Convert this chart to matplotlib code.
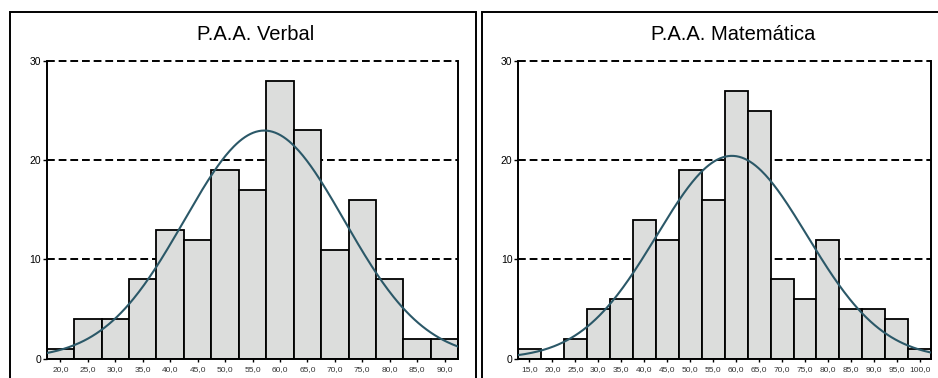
import numpy as np
import matplotlib
matplotlib.use("Agg")
import matplotlib.pyplot as plt
from matplotlib.patches import Rectangle

plt.rcParams['font.family'] = ['Liberation Sans', 'DejaVu Sans']

# Daten (Klassenmitten, Häufigkeiten)
verbal_mid = [20, 25, 30, 35, 40, 45, 50, 55, 60, 65, 70, 75, 80, 85, 90]
verbal_n = [1, 4, 4, 8, 13, 12, 19, 17, 28, 23, 11, 16, 8, 2, 2]

mate_mid = [15, 20, 25, 30, 35, 40, 45, 50, 55, 60, 65, 70, 75, 80, 85, 90, 95, 100]
mate_n = [1, 0, 2, 5, 6, 14, 12, 19, 16, 27, 25, 8, 6, 12, 5, 5, 4, 1]

titles = ['P.A.A. Verbal', 'P.A.A. Matemática']
bin_w = 5

bar_col = '#dcdddc'
curve_col = '#2b5868'

fig = plt.figure(figsize=(9.38, 3.78), dpi=100)
W, H = 938, 378


def px(x0, y0, x1, y1):
    # Pixel -> Figurkoordinaten
    return [x0 / W, 1 - y1 / H, (x1 - x0) / W, (y1 - y0) / H]


# Rahmen um die Diagramme
for bx0, bx1 in [(10, 476), (482, 950)]:
    fig.add_artist(Rectangle((bx0 / W, 1 - 400 / H), (bx1 - bx0) / W, (400 - 12) / H,
                             transform=fig.transFigure, fill=False,
                             edgecolor='black', lw=1.4))

panels = [
    (verbal_mid, verbal_n, px(46.7, 61, 458.3, 358.7), 255.7),
    (mate_mid, mate_n, px(518, 61, 931.3, 358.7), 732.7),
]

for (mid, n, rect, tx), title in zip(panels, titles):
    mid = np.array(mid, dtype=float)
    n = np.array(n, dtype=float)
    ax = fig.add_axes(rect)

    ax.bar(mid, n, width=bin_w, color=bar_col, edgecolor='black', lw=1.3, zorder=2)

    # Normalverteilungskurve
    mu = np.average(mid, weights=n)
    sd = np.sqrt(np.sum(n * (mid - mu) ** 2) / (n.sum() - 1))
    lo, hi = mid[0] - bin_w / 2, mid[-1] + bin_w / 2
    xs = np.linspace(lo, hi, 300)
    ys = n.sum() * bin_w / (sd * np.sqrt(2 * np.pi)) * np.exp(-0.5 * ((xs - mu) / sd) ** 2)
    ax.plot(xs, ys, color=curve_col, lw=1.5, zorder=3)

    for yv in [10, 20, 30]:
        ax.axhline(yv, color='black', lw=1.4, ls=(0, (4, 2)), zorder=1, clip_on=False)

    ax.set_xlim(lo, hi)
    ax.set_ylim(0, 30)
    ax.set_yticks([0, 10, 20, 30])
    ax.set_xticks(mid)
    ax.set_xticklabels([('%.1f' % v).replace('.', ',') for v in mid])
    ax.tick_params(axis='y', labelsize=7.5, length=3, width=1, pad=1)
    ax.tick_params(axis='x', labelsize=6, length=2, width=1, pad=3)
    for lab in ax.get_xticklabels():
        lab.set_color('#333333')
    ax.spines['top'].set_visible(False)
    for s in ['left', 'right', 'bottom']:
        ax.spines[s].set_linewidth(1.4)

    fig.text(tx / W, 1 - 35 / H, title, ha='center', va='center', fontsize=14.5)

fig.savefig('out.png', dpi=100)
